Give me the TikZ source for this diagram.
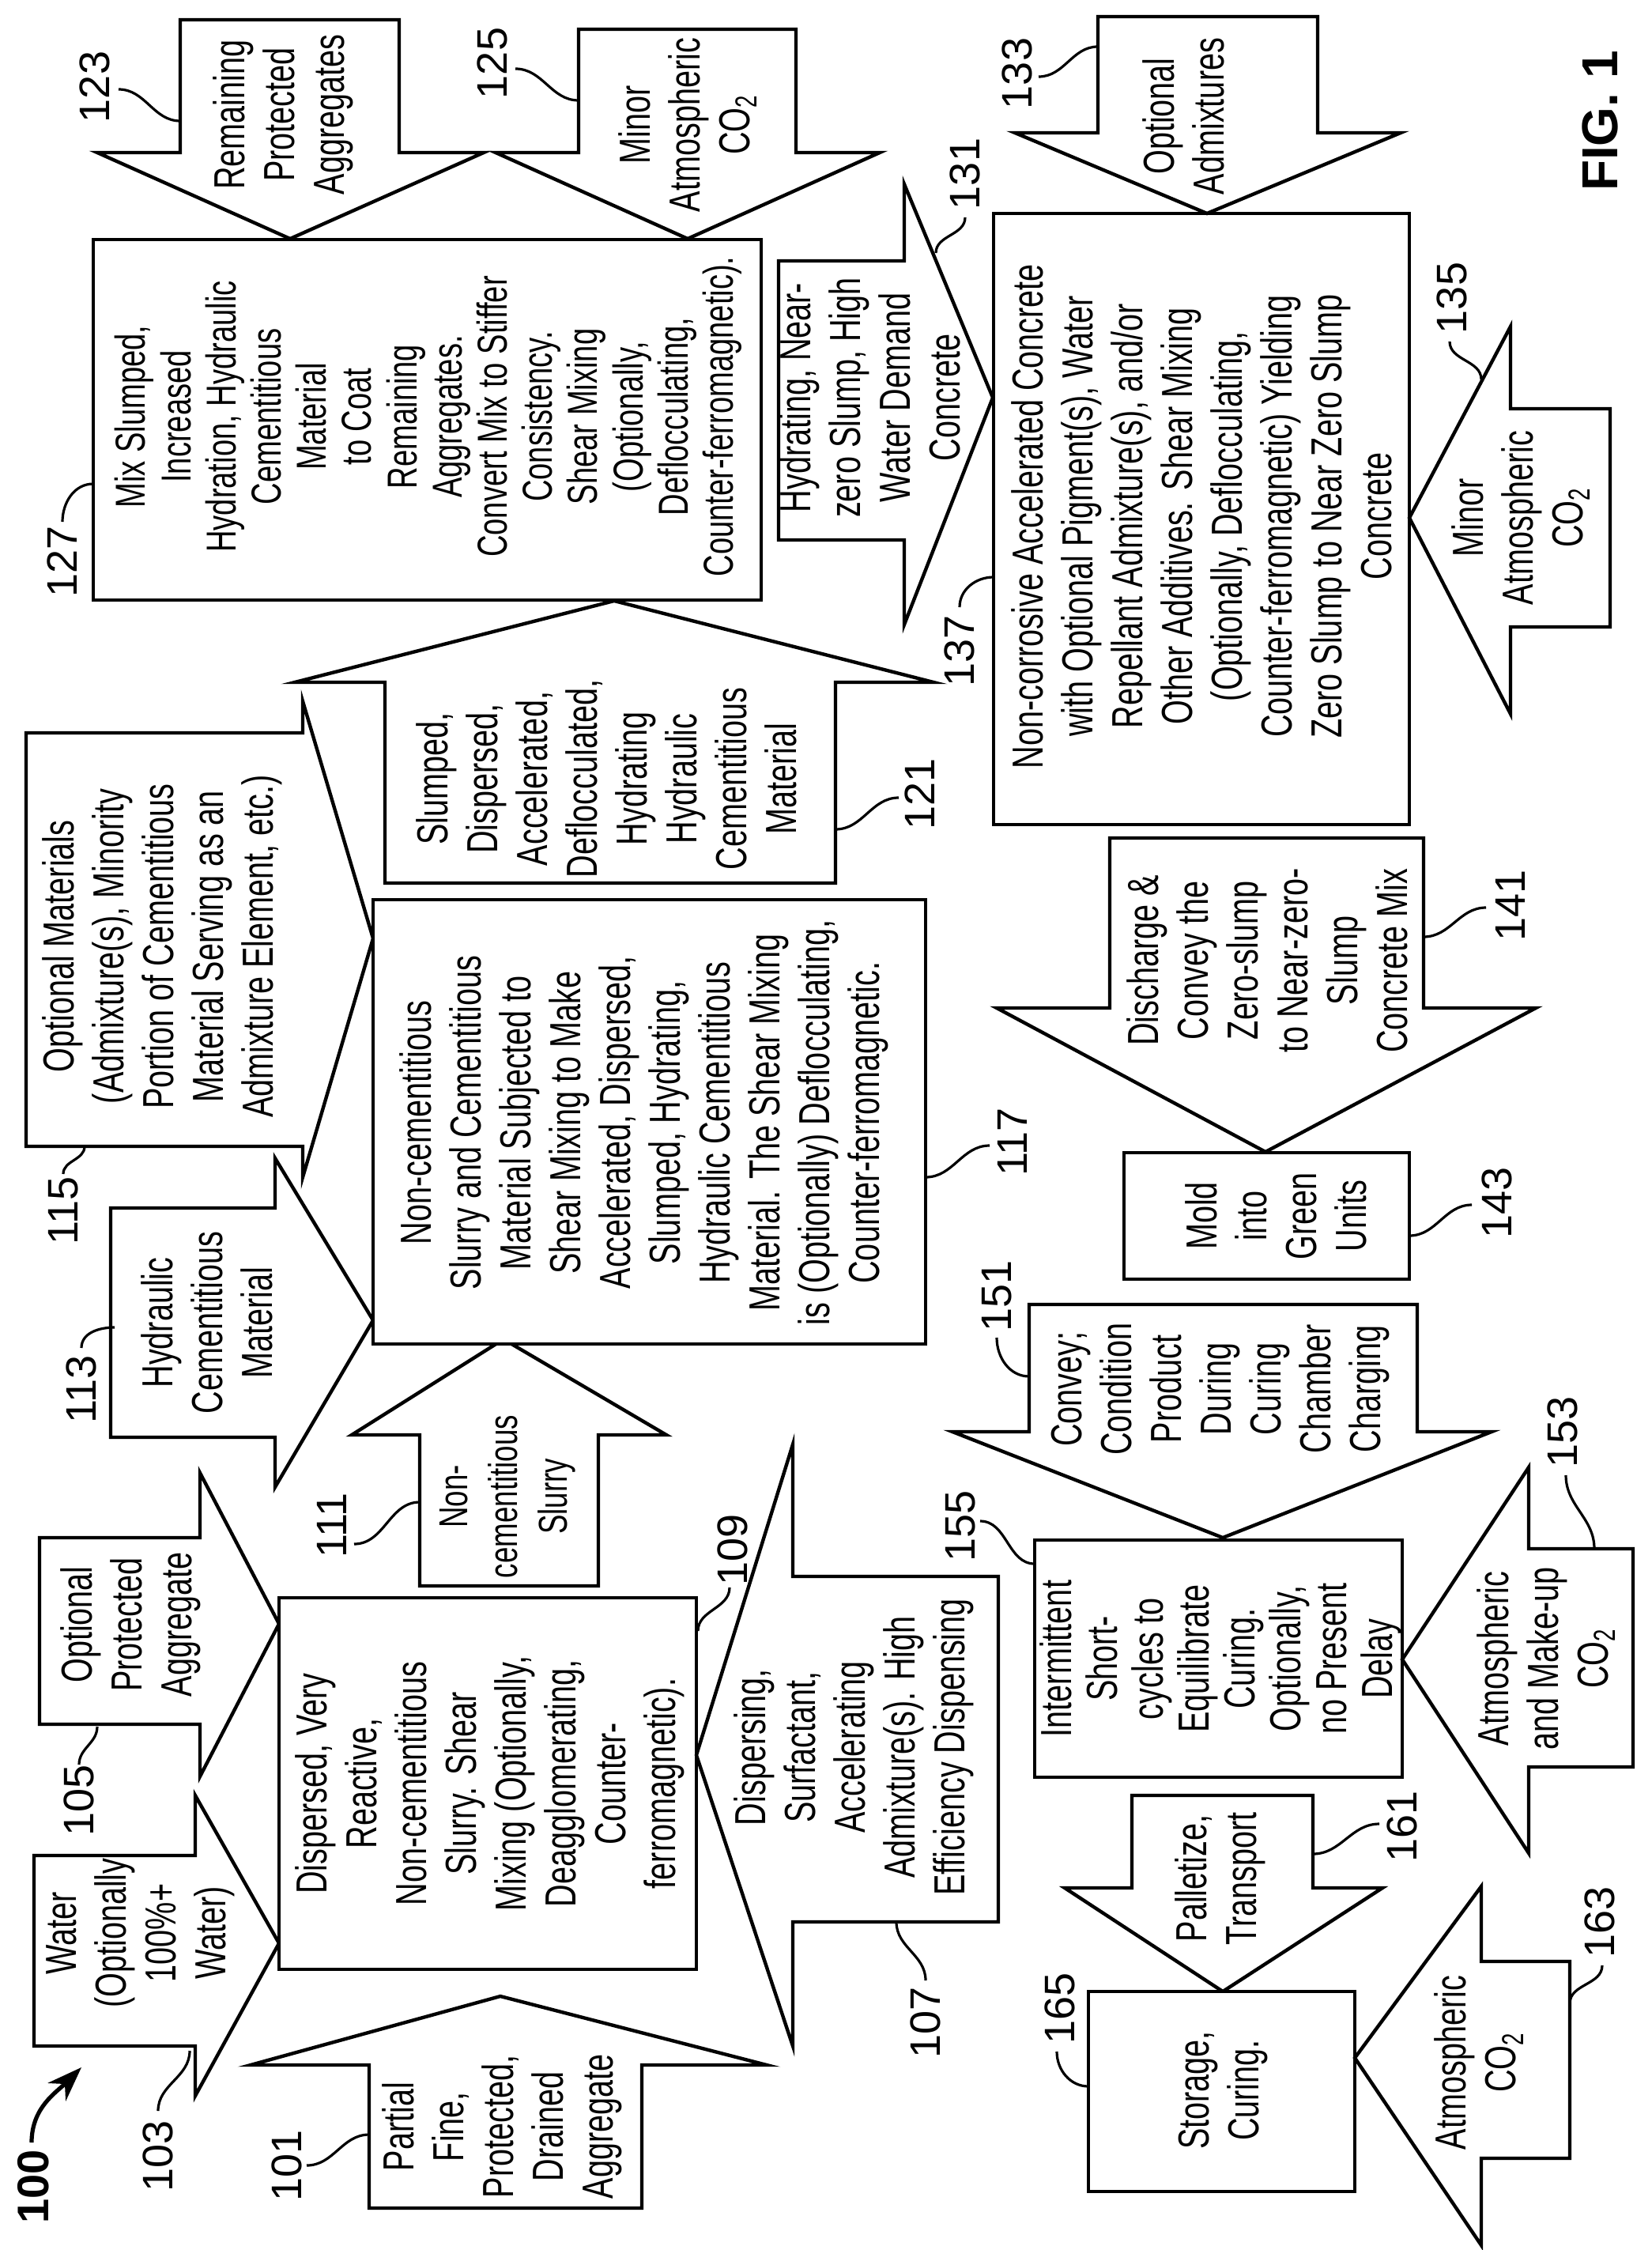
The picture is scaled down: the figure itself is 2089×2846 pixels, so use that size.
\documentclass[tikz,border=0pt]{standalone}
\usepackage{fontspec}
\setmainfont{Liberation Sans}[FakeStretch=0.72]
\newfontfamily\numfont{Liberation Sans}
\usetikzlibrary{arrows.meta}
\begin{document}
\begin{tikzpicture}[x=0.5pt,y=-0.5pt,
  ba/.style={draw,line width=2.2pt,line join=miter,fill=white},
  txt/.style={rotate=90,align=center,inner sep=0pt,font={\fontsize{27.5}{31.5}\selectfont}},
  txs/.style={rotate=90,align=center,inner sep=0pt,font={\fontsize{26.5}{28.6}\selectfont}},
  txn/.style={rotate=90,align=center,inner sep=0pt,font={\fontsize{27.5}{29}\selectfont}},
  num/.style={rotate=90,inner sep=0pt,font={\numfont\fontsize{27}{27}\selectfont}},
  lead/.style={line width=1.6pt}]
\useasboundingbox (0,0) rectangle (2089,2846);
\newcommand\lbl[6]{\node[num] (n#1) at (#2) {#1}; \coordinate (s#1) at (#3); \coordinate (e#1) at (#4); \draw[lead] (s#1) to[out=#5,in=#6] (e#1);}
\newcommand\CO{CO\textsubscript{2}}
% ---- shapes ----
\draw[ba] (43,2347)--(247,2347)--(247,2271)--(353,2458)--(247,2651)--(247,2588)--(43,2588)--cycle;
\draw[ba] (50,1945)--(253,1945)--(253,1863)--(353,2054)--(253,2247)--(253,2181)--(50,2181)--cycle;
\draw[ba] (353,2021) rectangle (881,2491);
\draw[ba] (467,2793)--(467,2612)--(317,2612)--(633,2525)--(970,2612)--(812,2612)--(812,2793)--cycle;
\draw[ba] (531,2006)--(531,1815)--(445,1815)--(637,1694)--(843,1815)--(757,1815)--(757,2006)--cycle;
\draw[ba] (1263,1994)--(1003,1994)--(1003,1827)--(881,2220)--(1003,2588)--(1003,2431)--(1263,2431)--cycle;
\draw[ba] (140,1528)--(348,1528)--(348,1465)--(472,1670)--(348,1881)--(348,1818)--(140,1818)--cycle;
\draw[ba] (33,927)--(383,927)--(383,887)--(472,1187)--(383,1489)--(383,1450)--(33,1450)--cycle;
\draw[ba] (472,1138) rectangle (1171,1700);
\draw[ba] (487,1117)--(487,863)--(373,863)--(777,760)--(1181,863)--(1057,863)--(1057,1117)--cycle;
\draw[ba] (118,303) rectangle (963,759);
\draw[ba] (228,25)--(505,25)--(505,193)--(612,193)--(367,302)--(123,193)--(228,193)--cycle;
\draw[ba] (732,37)--(1007,37)--(1007,193)--(1113,193)--(870,302)--(627,193)--(732,193)--cycle;
\draw[ba] (985,330)--(1144,330)--(1144,233)--(1256,503)--(1144,790)--(1144,683)--(985,683)--cycle;
\draw[ba] (1257,270) rectangle (1783,1043);
\draw[ba] (1389,21)--(1667,21)--(1667,168)--(1772,168)--(1527,270)--(1284,168)--(1389,168)--cycle;
\draw[ba] (2037,517)--(1911,517)--(1911,413)--(1783,655)--(1911,903)--(1911,793)--(2037,793)--cycle;
\draw[ba] (1404,1060)--(1801,1060)--(1801,1275)--(1943,1275)--(1601,1457)--(1261,1275)--(1404,1275)--cycle;
\draw[ba] (1422,1458) rectangle (1783,1618);
\draw[ba] (1302,1650)--(1793,1650)--(1793,1811)--(1887,1811)--(1547,1945)--(1205,1811)--(1302,1811)--cycle;
\draw[ba] (1309,1948) rectangle (1774,2248);
\draw[ba] (2066,1959)--(1934,1959)--(1934,1856)--(1774,2099)--(1934,2344)--(1934,2235)--(2066,2235)--cycle;
\draw[ba] (1432,2271)--(1661,2271)--(1661,2388)--(1749,2388)--(1547,2519)--(1347,2388)--(1432,2388)--cycle;
\draw[ba] (1377,2519) rectangle (1714,2772);
\draw[ba] (1986,2481)--(1874,2481)--(1874,2386)--(1714,2603)--(1874,2840)--(1874,2730)--(1986,2730)--cycle;
% ---- texts ----
\node[txt] (t103) at (178,2445) {Water\\(Optionally\\100\%+\\Water)};
\node[txt] (t105) at (165,2055) {Optional\\Protected\\Aggregate};
\node[txt] (t109) at (620,2256) {Dispersed, Very\\Reactive,\\Non-cementitious\\Slurry. Shear\\Mixing (Optionally,\\Deagglomerating,\\Counter-\\ferromagnetic).};
\node[txt] (t101) at (635,2690) {Partial\\Fine,\\Protected,\\Drained\\Aggregate};
\node[txt,font={\fontsize{25.5}{31.5}\selectfont}] (t111) at (642,1893) {Non-\\cementitious\\Slurry};
\node[txt] (t107) at (1080,2210) {Dispersing,\\Surfactant,\\Accelerating\\Admixture(s). High\\Efficiency Dispensing};
\node[txt] (t113) at (262,1673) {Hydraulic\\Cementitious\\Material};
\node[txt] (t115) at (205,1197) {Optional Materials\\(Admixture(s), Minority\\Portion of Cementitious\\Material Serving as an\\Admixture Element, etc.)};
\node[txt] (t117) at (815,1420) {Non-cementitious\\Slurry and Cementitious\\Material Subjected to\\Shear Mixing to Make\\Accelerated, Dispersed,\\Slumped, Hydrating,\\Hydraulic Cementitious\\Material. The Shear Mixing\\is (Optionally) Deflocculating,\\Counter-ferromagnetic.};
\node[txt] (t121) at (767,985) {Slumped,\\Dispersed,\\Accelerated,\\Deflocculated,\\Hydrating\\Hydraulic\\Cementitious\\Material};
\node[txs] (t127) at (542,527) {Mix Slumped,\\Increased\\Hydration, Hydraulic\\Cementitious\\Material\\to Coat\\Remaining\\Aggregates.\\Convert Mix to Stiffer\\Consistency.\\Shear Mixing\\(Optionally,\\Deflocculating,\\Counter-ferromagnetic).};
\node[txt] (t123) at (358,145) {Remaining\\Protected\\Aggregates};
\node[txt] (t125) at (870,158) {Minor\\Atmospheric\\\CO};
\node[txt] (t131) at (1100,503) {Hydrating, Near-\\zero Slump, High\\Water Demand\\Concrete};
\node[txt] (t137) at (1520,653) {Non-corrosive Accelerated Concrete\\with Optional Pigment(s), Water\\Repellant Admixture(s), and/or\\Other Additives. Shear Mixing\\(Optionally, Deflocculating,\\Counter-ferromagnetic) Yielding\\Zero Slump to Near Zero Slump\\Concrete};
\node[txt] (t133) at (1497,147) {Optional\\Admixtures};
\node[txt] (t135) at (1924,655) {Minor\\Atmospheric\\\CO};
\node[txt] (t141) at (1603,1215) {Discharge \&\\Convey the\\Zero-slump\\to Near-zero-\\Slump\\Concrete Mix};
\node[txt] (t143) at (1614,1538) {Mold\\into\\Green\\Units};
\node[txt] (t151) at (1544,1757) {Convey;\\Condition\\Product\\During\\Curing\\Chamber\\Charging};
\node[txn] (t155) at (1544,2098) {Intermittent\\Short-\\cycles to\\Equilibrate\\Curing.\\Optionally,\\no Present\\Delay};
\node[txt] (t153) at (1956,2098) {Atmospheric\\and Make-up\\\CO};
\node[txt] (t161) at (1544,2376) {Palletize,\\Transport};
\node[txt] (t165) at (1547,2644) {Storage,\\Curing.};
\node[txt] (t163) at (1871,2609) {Atmospheric\\\CO};
% ---- labels ----
\lbl{103}{200,2727}{200,2670}{240,2594}{90}{-90}
\lbl{101}{363,2739}{388,2739}{467,2700}{0}{180}
\lbl{105}{100,2277}{100,2232}{123,2184}{90}{-90}
\lbl{109}{927,1960}{923,2008}{883,2063}{-90}{90}
\lbl{111}{420,1929}{448,1953}{531,1900}{0}{180}
\lbl{107}{1171,2558}{1171,2505}{1134,2431}{90}{-90}
\lbl{113}{103,1757}{103,1705}{145,1679}{90}{180}
\lbl{115}{80,1531}{80,1485}{107,1450}{90}{-90}
\lbl{117}{1281,1444}{1252,1449}{1171,1489}{180}{0}
\lbl{121}{1164,1004}{1137,1009}{1057,1049}{180}{0}
\lbl{127}{79,710}{79,660}{118,612}{90}{180}
\lbl{123}{120,110}{150,113}{228,153}{0}{180}
\lbl{125}{623,80}{652,87}{732,127}{0}{180}
\lbl{131}{1221,220}{1221,275}{1184,320}{-90}{90}
\lbl{137}{1214,823}{1214,768}{1257,730}{90}{180}
\lbl{133}{1287,93}{1314,97}{1389,59}{0}{180}
\lbl{135}{1837,377}{1834,432}{1874,480}{-90}{90}
\lbl{141}{1911,1145}{1880,1148}{1801,1185}{180}{0}
\lbl{143}{1894,1521}{1862,1524}{1783,1563}{180}{0}
\lbl{151}{1261,1639}{1261,1692}{1302,1741}{-90}{180}
\lbl{155}{1215,1930}{1240,1924}{1309,1978}{0}{180}
\lbl{153}{1977,1811}{1981,1866}{2017,1959}{-90}{90}
\lbl{161}{1774,2310}{1745,2307}{1661,2345}{180}{0}
\lbl{163}{2024,2431}{2027,2486}{1986,2534}{-90}{90}
\lbl{165}{1341,2540}{1337,2595}{1377,2639}{-90}{180}
% ---- figure label ----
\node[rotate=90,inner sep=0pt,font={\numfont\bfseries\fontsize{28}{28}\selectfont}] (n100) at (42,2766) {100};
\coordinate (a100s) at (40,2710);
\coordinate (a100e) at (103,2615);
\draw[line width=2.6pt,-{Stealth[length=22pt,width=16pt]}] (a100s) to[out=90,in=-135] (a100e);
\node[rotate=90,inner sep=0pt,font={\numfont\bfseries\fontsize{32}{32}\selectfont}] (fig) at (2024,153) {FIG. 1};
\end{tikzpicture}
\end{document}
